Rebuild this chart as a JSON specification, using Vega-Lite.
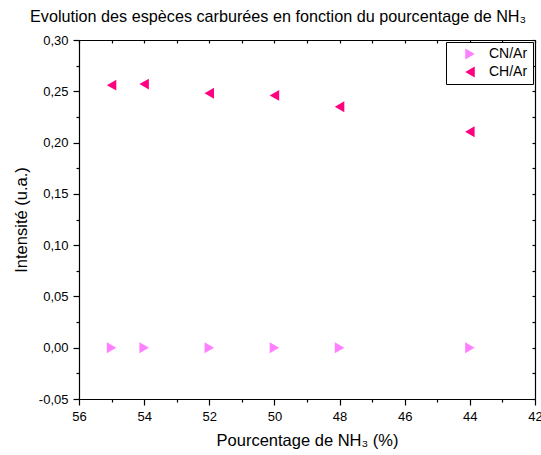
{
  "$schema": "https://vega.github.io/schema/vega-lite/v6.json",
  "autosize": "none",
  "width": 456,
  "height": 359,
  "padding": {"left": 79, "top": 40, "right": 6, "bottom": 56},
  "background": "white",
  "config": {
    "font": "Liberation Sans",
    "view": {"stroke": null},
    "axis": {"labelFont": "Liberation Sans", "titleFont": "Liberation Sans", "domainColor": "black", "tickColor": "black", "labelColor": "black", "titleColor": "black", "grid": false, "titleFontWeight": "normal", "labelFontSize": 13, "titleFontSize": 16.5, "domainWidth": 1.2, "tickWidth": 1.2}
  },
  "title": {
    "text": "Evolution des espèces carburées en fonction du pourcentage de NH₃",
    "font": "Liberation Sans",
    "fontSize": 16.2,
    "fontWeight": "normal",
    "color": "black",
    "anchor": "start",
    "frame": "group",
    "dx": -49,
    "offset": 9
  },
  "data": {
    "values": [
      {"pct": 55, "value": 0.0, "series": "CN/Ar"},
      {"pct": 54, "value": 0.0, "series": "CN/Ar"},
      {"pct": 52, "value": 0.0, "series": "CN/Ar"},
      {"pct": 50, "value": 0.0, "series": "CN/Ar"},
      {"pct": 48, "value": 0.0, "series": "CN/Ar"},
      {"pct": 44, "value": 0.0, "series": "CN/Ar"},
      {"pct": 55, "value": 0.256, "series": "CH/Ar"},
      {"pct": 54, "value": 0.257, "series": "CH/Ar"},
      {"pct": 52, "value": 0.248, "series": "CH/Ar"},
      {"pct": 50, "value": 0.246, "series": "CH/Ar"},
      {"pct": 48, "value": 0.235, "series": "CH/Ar"},
      {"pct": 44, "value": 0.2105, "series": "CH/Ar"}
    ]
  },
  "resolve": {"axis": {"x": "independent", "y": "independent"}},
  "layer": [
    {
      "mark": {"type": "point", "filled": true, "opacity": 1, "strokeWidth": 0},
      "encoding": {
        "x": {
          "field": "pct", "type": "quantitative",
          "scale": {"domain": [42, 56], "reverse": true, "nice": false, "zero": false},
          "axis": {
            "orient": "bottom",
            "title": "Pourcentage de NH₃ (%)",
            "values": [42, 43, 44, 45, 46, 47, 48, 49, 50, 51, 52, 53, 54, 55, 56],
            "labelExpr": "datum.value % 2 == 0 ? datum.label : ''",
            "tickSize": {"condition": {"test": "datum.value % 2 == 0", "value": 6}, "value": 3},
            "labelPadding": 5,
            "titlePadding": 9,
            "labelFlush": false,
            "labelOverlap": false
          }
        },
        "y": {
          "field": "value", "type": "quantitative",
          "scale": {"domain": [-0.05, 0.30], "nice": false, "zero": false},
          "axis": {
            "orient": "left",
            "title": "Intensité (u.a.)",
            "values": [-0.05, -0.025, 0, 0.025, 0.05, 0.075, 0.1, 0.125, 0.15, 0.175, 0.2, 0.225, 0.25, 0.275, 0.3],
            "labelExpr": "round(datum.value*1000) % 50 == 0 ? replace(replace(format(datum.value, '.2f'), '.', ','), '\u2212', '-') : ''",
            "tickSize": {"condition": {"test": "round(datum.value*1000) % 50 == 0", "value": 6}, "value": 3},
            "labelPadding": 5,
            "titlePadding": 9,
            "labelFlush": false,
            "labelOverlap": false
          }
        },
        "color": {
          "field": "series", "type": "nominal",
          "scale": {"domain": ["CN/Ar", "CH/Ar"], "range": ["#FF80FF", "#FF0080"]},
          "legend": {"title": null, "orient": "top-right", "offset": 2, "strokeColor": "black", "fillColor": "white", "padding": 5, "labelFontSize": 14, "labelFont": "Liberation Sans", "labelColor": "black", "symbolSize": 120, "rowPadding": 4, "labelOffset": 12, "symbolOffset": 12, "symbolStrokeWidth": 0}
        },
        "shape": {
          "field": "series", "type": "nominal",
          "scale": {"domain": ["CN/Ar", "CH/Ar"], "range": ["triangle-right", "triangle-left"]},
          "legend": {"title": null}
        },
        "size": {"value": 120}
      }
    },
    {
      "mark": {"type": "point", "opacity": 0},
      "encoding": {
        "x": {
          "field": "pct", "type": "quantitative",
          "axis": {"orient": "top", "title": null, "labels": false, "values": [42, 43, 44, 45, 46, 47, 48, 49, 50, 51, 52, 53, 54, 55, 56], "tickSize": -3}
        },
        "y": {
          "field": "value", "type": "quantitative",
          "axis": {"orient": "right", "title": null, "labels": false, "values": [-0.05, -0.025, 0, 0.025, 0.05, 0.075, 0.1, 0.125, 0.15, 0.175, 0.2, 0.225, 0.25, 0.275, 0.3], "tickSize": -3}
        }
      }
    }
  ]
}
